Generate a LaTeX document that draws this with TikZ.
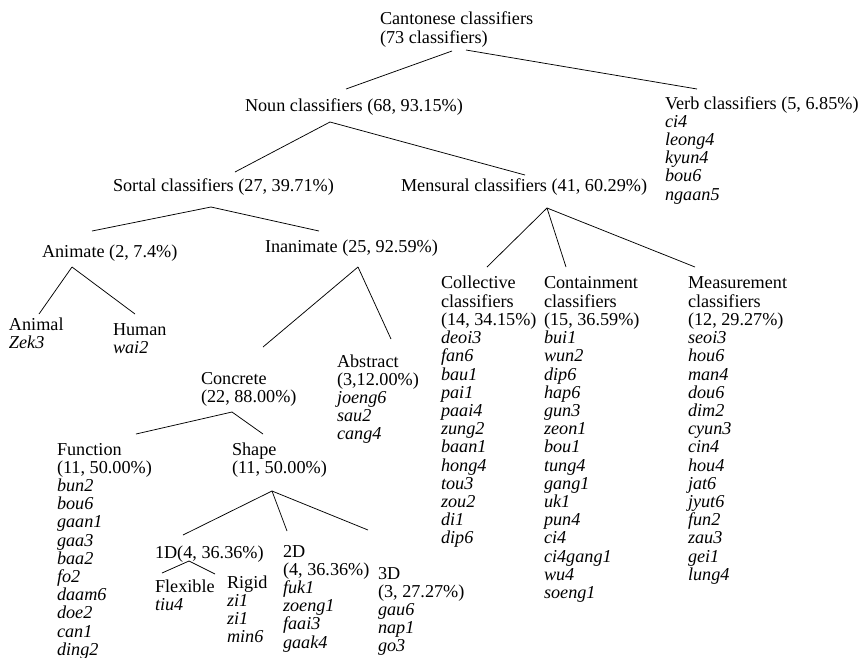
\documentclass[tikz,border=0pt]{standalone}
\usepackage{fontspec}
\setmainfont{Liberation Serif}
\newcommand\clf[1]{\textit{#1}}
\begin{document}
\begin{tikzpicture}[x=1pt,y=-1pt,
  lbl/.style={anchor=north west, inner sep=0pt, outer sep=0pt, align=left,
    font=\fontsize{18.2}{18.2}\selectfont, yshift=12.74pt},
  edge/.style={line width=0.75pt}]
\useasboundingbox (0,0) rectangle (862,657);
% nodes (positioned at first-line baseline)
\node[lbl] (root) at (380,24) {\strut Cantonese classifiers\\(73 classifiers)};
\node[lbl] (noun) at (245,111) {\strut Noun classifiers (68, 93.15\%)};
\node[lbl] (verb) at (665,109) {\strut Verb classifiers (5, 6.85\%)\\\clf{ci4}\\\clf{leong4}\\\clf{kyun4}\\\clf{bou6}\\\clf{ngaan5}};
\node[lbl] (sortal) at (113,191) {\strut Sortal classifiers (27, 39.71\%)};
\node[lbl] (mensural) at (401,191) {\strut Mensural classifiers (41, 60.29\%)};
\node[lbl] (animate) at (42,257) {\strut Animate (2, 7.4\%)};
\node[lbl] (inanimate) at (265,252) {\strut Inanimate (25, 92.59\%)};
\node[lbl] (animal) at (9,330) {\strut Animal\\\clf{Zek3}};
\node[lbl] (human) at (113,335) {\strut Human\\\clf{wai2}};
\node[lbl] (concrete) at (201,384) {\strut Concrete\\(22, 88.00\%)};
\node[lbl] (abstract) at (337,367) {\strut Abstract\\(3,12.00\%)\\\clf{joeng6}\\\clf{sau2}\\\clf{cang4}};
\node[lbl] (function) at (57,455) {\strut Function\\(11, 50.00\%)\\\clf{bun2}\\\clf{bou6}\\\clf{gaan1}\\\clf{gaa3}\\\clf{baa2}\\\clf{fo2}\\\clf{daam6}\\\clf{doe2}\\\clf{can1}\\\clf{ding2}};
\node[lbl] (shape) at (232,455) {\strut Shape\\(11, 50.00\%)};
\node[lbl] (oned) at (155,558) {\strut 1D(4, 36.36\%)};
\node[lbl] (twod) at (283,557) {\strut 2D\\(4, 36.36\%)\\\clf{fuk1}\\\clf{zoeng1}\\\clf{faai3}\\\clf{gaak4}};
\node[lbl] (threed) at (378,579) {\strut 3D\\(3, 27.27\%)\\\clf{gau6}\\\clf{nap1}\\\clf{go3}};
\node[lbl] (flexible) at (155,592) {\strut Flexible\\\clf{tiu4}};
\node[lbl] (rigid) at (227,588) {\strut Rigid\\\clf{zi1}\\\clf{zi1}\\\clf{min6}};
\node[lbl] (collective) at (441,288) {\strut Collective\\classifiers\\(14, 34.15\%)\\\clf{deoi3}\\\clf{fan6}\\\clf{bau1}\\\clf{pai1}\\\clf{paai4}\\\clf{zung2}\\\clf{baan1}\\\clf{hong4}\\\clf{tou3}\\\clf{zou2}\\\clf{di1}\\\clf{dip6}};
\node[lbl] (containment) at (544,288) {\strut Containment\\classifiers\\(15, 36.59\%)\\\clf{bui1}\\\clf{wun2}\\\clf{dip6}\\\clf{hap6}\\\clf{gun3}\\\clf{zeon1}\\\clf{bou1}\\\clf{tung4}\\\clf{gang1}\\\clf{uk1}\\\clf{pun4}\\\clf{ci4}\\\clf{ci4gang1}\\\clf{wu4}\\\clf{soeng1}};
\node[lbl] (measurement) at (688,288) {\strut Measurement\\classifiers\\(12, 29.27\%)\\\clf{seoi3}\\\clf{hou6}\\\clf{man4}\\\clf{dou6}\\\clf{dim2}\\\clf{cyun3}\\\clf{cin4}\\\clf{hou4}\\\clf{jat6}\\\clf{jyut6}\\\clf{fun2}\\\clf{zau3}\\\clf{gei1}\\\clf{lung4}};
% connector end points
\coordinate (root-l) at (452,51);
\coordinate (root-r) at (466,50);
\coordinate (noun-t) at (346,89);
\coordinate (verb-t) at (697,89);
\coordinate (noun-b) at (330,122);
\coordinate (sortal-t) at (235,172);
\coordinate (mensural-t) at (525,175);
\coordinate (sortal-b) at (211,207);
\coordinate (animate-t) at (92,231);
\coordinate (inanimate-t) at (319,231);
\coordinate (animate-b) at (72,267);
\coordinate (animal-t) at (39,314);
\coordinate (human-t) at (135,314);
\coordinate (inanimate-b) at (358,267);
\coordinate (concrete-t) at (263,347);
\coordinate (abstract-t) at (391,339);
\coordinate (mensural-b) at (547,208);
\coordinate (collective-t) at (487,267);
\coordinate (containment-t) at (566,267);
\coordinate (measurement-t) at (695,267);
\coordinate (concrete-b) at (232,412);
\coordinate (function-t) at (136,434);
\coordinate (shape-t) at (263,434);
\coordinate (shape-b) at (272,491);
\coordinate (oned-t) at (183,535);
\coordinate (twod-t) at (287,531);
\coordinate (threed-t) at (368,530);
\coordinate (oned-b) at (189,561);
\coordinate (flexible-t) at (162,573);
\coordinate (rigid-t) at (215,574);
% connectors
\draw[edge] (root-l) -- (noun-t);
\draw[edge] (root-r) -- (verb-t);
\draw[edge] (noun-b) -- (sortal-t);
\draw[edge] (noun-b) -- (mensural-t);
\draw[edge] (sortal-b) -- (animate-t);
\draw[edge] (sortal-b) -- (inanimate-t);
\draw[edge] (animate-b) -- (animal-t);
\draw[edge] (animate-b) -- (human-t);
\draw[edge] (inanimate-b) -- (concrete-t);
\draw[edge] (inanimate-b) -- (abstract-t);
\draw[edge] (mensural-b) -- (collective-t);
\draw[edge] (mensural-b) -- (containment-t);
\draw[edge] (mensural-b) -- (measurement-t);
\draw[edge] (concrete-b) -- (function-t);
\draw[edge] (concrete-b) -- (shape-t);
\draw[edge] (shape-b) -- (oned-t);
\draw[edge] (shape-b) -- (twod-t);
\draw[edge] (shape-b) -- (threed-t);
\draw[edge] (oned-b) -- (flexible-t);
\draw[edge] (oned-b) -- (rigid-t);
\end{tikzpicture}
\end{document}
